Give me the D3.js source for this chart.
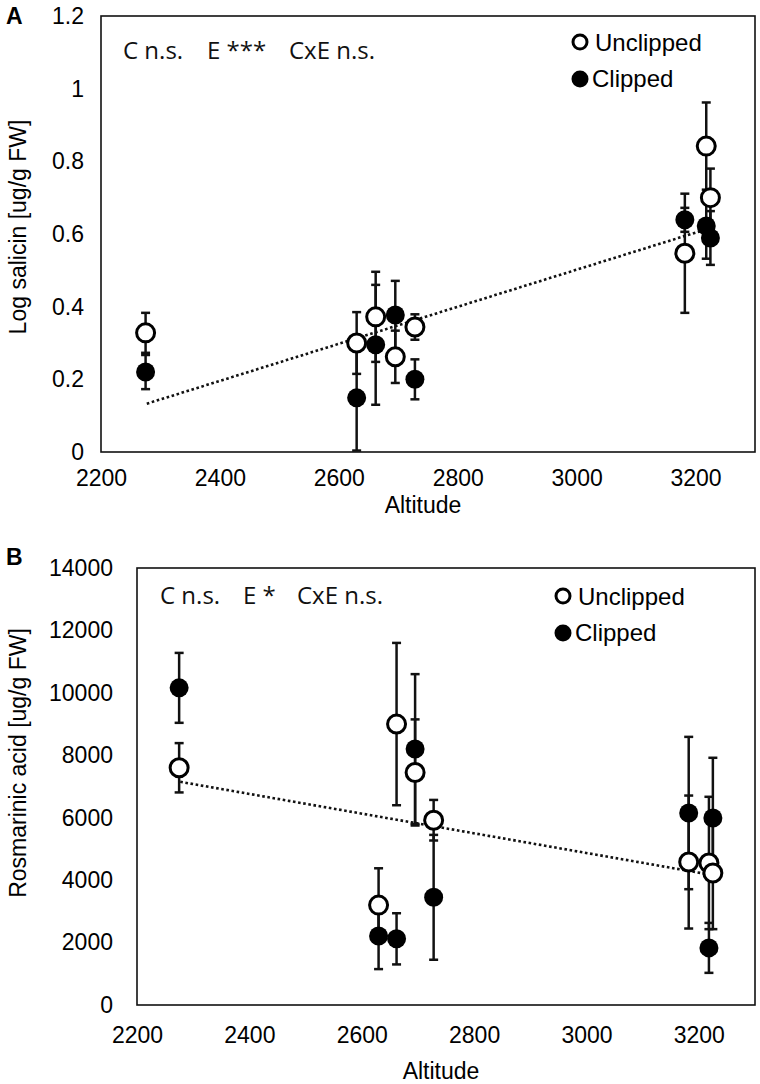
<!DOCTYPE html>
<html>
<head>
<meta charset="utf-8">
<script src="https://cdn.jsdelivr.net/npm/d3@7"></script>
<style>
  html, body { margin: 0; padding: 0; background: #fff; }
  svg { display: block; }
</style>
</head>
<body>
<svg id="chart" width="760" height="1084"></svg>
<script>
// ---- data ----
const altitudes = [2275, 2630, 2662, 2695, 2728, 3182, 3218, 3225];

const salicinUnclipped    = [0.328, 0.300, 0.372, 0.262, 0.344, 0.547, 0.842, 0.700];
const salicinUnclippedErr = [0.055, 0.085, 0.124, 0.072, 0.035, 0.164, 0.120, 0.080];
const salicinClipped      = [0.220, 0.149, 0.295, 0.377, 0.200, 0.639, 0.622, 0.589];
const salicinClippedErr   = [0.047, 0.145, 0.165, 0.094, 0.055, 0.033, 0.090, 0.074];

const rosUnclipped    = [7600, 3200, 9000, 7450, 5920, 4580, 4550, 4230];
const rosUnclippedErr = [790, 1180, 2600, 1700, 650, 2130, 2120, 1800];
const rosClipped      = [10160, 2210, 2120, 8200, 3450, 6150, 1830, 5990];
const rosClippedErr   = [1120, 1060, 820, 2400, 2000, 2440, 800, 1930];

const trendAltitudes = [2277, 3222];
const salicinTrend   = [0.133, 0.615];
const rosTrend       = [7150, 4170];

const xTicks       = [2200, 2400, 2600, 2800, 3000, 3200];
const salicinTicks = [0, 0.2, 0.4, 0.6, 0.8, 1, 1.2];
const rosTicks     = [0, 2000, 4000, 6000, 8000, 10000, 12000, 14000];

const seriesNames = ["Unclipped", "Clipped"];
const statsA = ["C n.s.", "E ***", "CxE n.s."];
const statsB = ["C n.s.", "E *", "CxE n.s."];

// ---- drawing ----
const svg = d3.select("#chart");
const FONT = "'Liberation Sans', Arial, sans-serif";
const NOTEFONT = "'Open Sans', 'Noto Sans', sans-serif";

function panel(cfg) {
  const g = svg.append("g");
  const x = d3.scaleLinear().domain([2200, 3300]).range([cfg.left, cfg.right]);
  const y = d3.scaleLinear().domain(cfg.yDomain).range([cfg.bottom, cfg.top]);

  // frame
  g.append("rect")
    .attr("x", cfg.left).attr("y", cfg.top)
    .attr("width", cfg.right - cfg.left).attr("height", cfg.bottom - cfg.top)
    .attr("fill", "none").attr("stroke", "#111").attr("stroke-width", 1.6);

  // x axis
  const xa = g.append("g").attr("transform", `translate(0,${cfg.bottom})`)
    .call(d3.axisBottom(x).tickValues(xTicks).tickSize(0).tickFormat(d3.format("d")));
  xa.select(".domain").remove();
  xa.selectAll("text").attr("dy", null).attr("y", cfg.xLabelOffset)
    .attr("font-family", FONT).attr("font-size", 23).attr("fill", "#000");

  // y axis
  const ya = g.append("g").attr("transform", `translate(${cfg.left},0)`)
    .call(d3.axisLeft(y).tickValues(cfg.yTicks).tickSize(0).tickPadding(cfg.yPad).tickFormat(cfg.yFormat));
  ya.select(".domain").remove();
  ya.selectAll("text").attr("font-family", FONT).attr("font-size", 23).attr("fill", "#000");

  // axis titles
  g.append("text").attr("x", (cfg.left + cfg.right) / 2 - 5).attr("y", cfg.xTitleY)
    .attr("text-anchor", "middle").attr("font-family", FONT).attr("font-size", 23)
    .text("Altitude");
  g.append("text").attr("transform", `translate(${cfg.yTitleX},${cfg.yTitleY}) rotate(-90)`)
    .attr("text-anchor", "middle").attr("font-family", FONT).attr("font-size", 23)
    .text(cfg.yTitle);

  // panel letter
  g.append("text").attr("x", 6).attr("y", cfg.letterY)
    .attr("font-family", FONT).attr("font-size", 23).attr("font-weight", "bold")
    .text(cfg.letter);

  // stats annotation
  cfg.stats.forEach((s, i) => {
    g.append("text").attr("x", cfg.statsX[i]).attr("y", cfg.statsY)
      .attr("font-family", NOTEFONT).attr("font-size", 24).attr("fill", "#111")
      .text(s);
  });

  // trend line
  const line = d3.line().x(d => x(d[0])).y(d => y(d[1]));
  g.append("path")
    .datum(trendAltitudes.map((a, i) => [a, cfg.trend[i]]))
    .attr("d", line).attr("fill", "none").attr("stroke", "#111")
    .attr("stroke-width", 2.6).attr("stroke-dasharray", "2.6,2.6");

  // error bars
  const series = [
    { vals: cfg.unclipped, errs: cfg.unclippedErr, filled: false },
    { vals: cfg.clipped, errs: cfg.clippedErr, filled: true }
  ];
  series.forEach(s => {
    const eg = g.append("g").attr("stroke", "#111").attr("stroke-width", 2.5);
    altitudes.forEach((a, i) => {
      const cx = x(a), lo = y(s.vals[i] - s.errs[i]), hi = y(s.vals[i] + s.errs[i]);
      eg.append("line").attr("x1", cx).attr("x2", cx).attr("y1", lo).attr("y2", hi);
      eg.append("line").attr("x1", cx - 4.5).attr("x2", cx + 4.5).attr("y1", lo).attr("y2", lo);
      eg.append("line").attr("x1", cx - 4.5).attr("x2", cx + 4.5).attr("y1", hi).attr("y2", hi);
    });
  });
  // markers
  series.forEach(s => {
    g.append("g").selectAll("circle").data(altitudes).join("circle")
      .attr("cx", d => x(d))
      .attr("cy", (d, i) => y(s.vals[i]))
      .attr("r", s.filled ? 9.5 : 9)
      .attr("fill", s.filled ? "#000" : "#fff")
      .attr("stroke", "#000")
      .attr("stroke-width", s.filled ? 0 : 3);
  });

  // legend
  const lg = g.append("g");
  lg.append("circle").attr("cx", cfg.legX).attr("cy", cfg.legY1).attr("r", 7)
    .attr("fill", "#fff").attr("stroke", "#000").attr("stroke-width", 3);
  lg.append("text").attr("x", cfg.legX + 15).attr("y", cfg.legY1 + 9)
    .attr("font-family", FONT).attr("font-size", 24).text(seriesNames[0]);
  lg.append("circle").attr("cx", cfg.legX).attr("cy", cfg.legY2).attr("r", 8.5)
    .attr("fill", "#000");
  lg.append("text").attr("x", cfg.legX + 12).attr("y", cfg.legY2 + 8)
    .attr("font-family", FONT).attr("font-size", 24).text(seriesNames[1]);
}

panel({
  letter: "A", letterY: 24,
  left: 101, right: 755, top: 16, bottom: 452,
  yDomain: [0, 1.2], yTicks: salicinTicks, yFormat: d3.format("~g"), yPad: 17,
  xLabelOffset: 34, xTitleY: 513,
  yTitle: "Log salicin [ug/g FW]", yTitleX: 26, yTitleY: 227,
  stats: statsA, statsX: [123, 207, 289], statsY: 59,
  trend: salicinTrend,
  unclipped: salicinUnclipped, unclippedErr: salicinUnclippedErr,
  clipped: salicinClipped, clippedErr: salicinClippedErr,
  legX: 580, legY1: 42, legY2: 79
});

panel({
  letter: "B", letterY: 565,
  left: 137, right: 755, top: 568, bottom: 1005,
  yDomain: [0, 14000], yTicks: rosTicks, yFormat: d3.format("d"), yPad: 24,
  xLabelOffset: 38, xTitleY: 1079,
  yTitle: "Rosmarinic acid [ug/g FW]", yTitleX: 26, yTitleY: 763,
  stats: statsB, statsX: [160, 243, 297], statsY: 604,
  trend: rosTrend,
  unclipped: rosUnclipped, unclippedErr: rosUnclippedErr,
  clipped: rosClipped, clippedErr: rosClippedErr,
  legX: 563, legY1: 596, legY2: 633
});
</script>
</body>
</html>
